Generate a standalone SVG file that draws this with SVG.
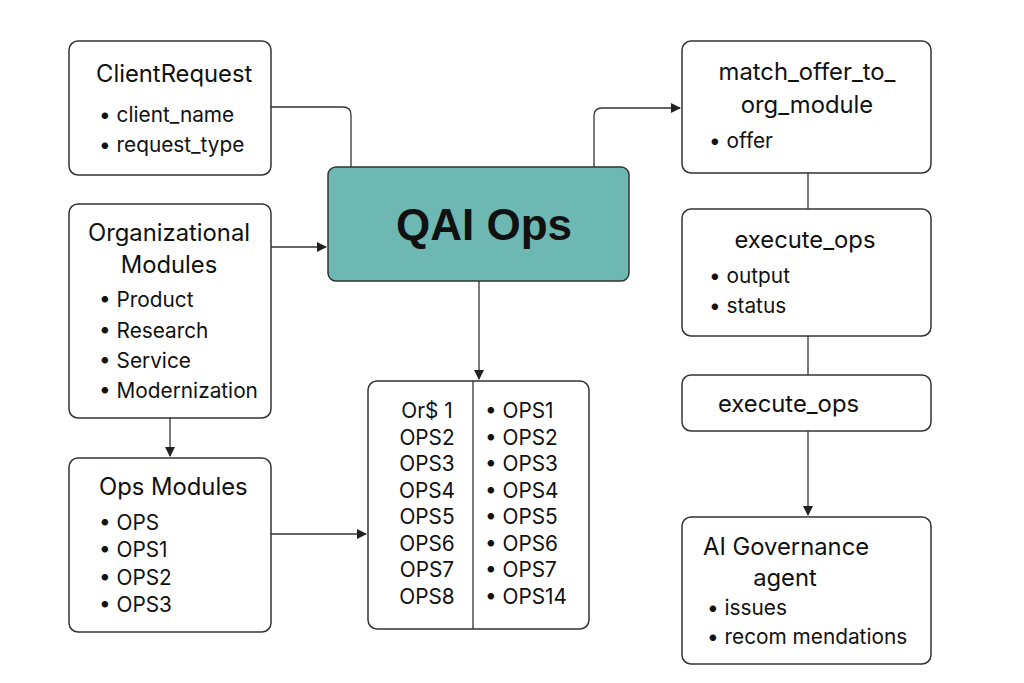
<svg xmlns="http://www.w3.org/2000/svg" width="1024" height="683" viewBox="0 0 1024 683">
<defs>
<marker id="ah" viewBox="0 0 10 10" refX="9" refY="5" markerWidth="10" markerHeight="10" markerUnits="userSpaceOnUse" orient="auto">
<path d="M0,0 L10,5 L0,10 Z" fill="#222"/>
</marker>
<style>
.box{fill:#fff;stroke:#333;stroke-width:1.5}
.main{fill:#6db8b3;stroke:#333;stroke-width:1.5}
.t{font-family:Inter,"Liberation Sans",sans-serif;font-size:23.8px;fill:#111}
.b{font-family:Inter,"Liberation Sans",sans-serif;font-size:20.8px;fill:#111}
.c{text-anchor:middle}
.big{font-family:"Liberation Sans",Arial,sans-serif;font-size:44px;font-weight:bold;fill:#111;text-anchor:middle}
.ln{fill:none;stroke:#333;stroke-width:1.3}
</style>
</defs>
<rect width="1024" height="683" fill="#fff"/>
<g id="connectors">
<path class="ln" d="M271,107 H343 Q351,107 351,115 V167"/>
<path class="ln" d="M271,247 H326" marker-end="url(#ah)"/>
<path class="ln" d="M479,281 V379" marker-end="url(#ah)"/>
<path class="ln" d="M170,418 V456" marker-end="url(#ah)"/>
<path class="ln" d="M271,534 H366" marker-end="url(#ah)"/>
<path class="ln" d="M594,167 V116 Q594,108 602,108 H680" marker-end="url(#ah)"/>
<path class="ln" d="M808,173 V209"/>
<path class="ln" d="M808,336 V375"/>
<path class="ln" d="M808,431 V515" marker-end="url(#ah)"/>
</g>
<g id="client-request">
<rect class="box" x="69" y="41" width="202" height="134" rx="9"/>
<text class="t" x="96" y="82">ClientRequest</text>
<text class="b" x="99" y="122">• client_name</text>
<text class="b" x="99" y="152">• request_type</text>
</g>
<g id="org-modules">
<rect class="box" x="69" y="204" width="202" height="214" rx="9"/>
<text class="t c" x="169" y="241">Organizational</text>
<text class="t c" x="169" y="273">Modules</text>
<text class="b" x="99" y="307">• Product</text>
<text class="b" x="99" y="338">• Research</text>
<text class="b" x="99" y="368">• Service</text>
<text class="b" x="99" y="398">• Modernization</text>
</g>
<g id="qai-ops">
<rect class="main" x="328" y="167" width="301" height="114" rx="8"/>
<text class="big" x="484" y="240">QAI Ops</text>
</g>
<g id="ops-modules">
<rect class="box" x="69" y="458" width="202" height="174" rx="9"/>
<text class="t" x="99" y="495">Ops Modules</text>
<text class="b" x="99" y="530">• OPS</text>
<text class="b" x="99" y="557">• OPS1</text>
<text class="b" x="99" y="585">• OPS2</text>
<text class="b" x="99" y="612">• OPS3</text>
</g>
<g id="ops-table">
<rect class="box" x="368" y="381" width="221" height="248" rx="9"/>
<line class="ln" x1="473" y1="381" x2="473" y2="629"/>
<text class="b c" x="427" y="418">Or$ 1</text>
<text class="b c" x="427" y="445">OPS2</text>
<text class="b c" x="427" y="471">OPS3</text>
<text class="b c" x="427" y="498">OPS4</text>
<text class="b c" x="427" y="524">OPS5</text>
<text class="b c" x="427" y="551">OPS6</text>
<text class="b c" x="427" y="577">OPS7</text>
<text class="b c" x="427" y="604">OPS8</text>
<text class="b" x="485" y="418">• OPS1</text>
<text class="b" x="485" y="445">• OPS2</text>
<text class="b" x="485" y="471">• OPS3</text>
<text class="b" x="485" y="498">• OPS4</text>
<text class="b" x="485" y="524">• OPS5</text>
<text class="b" x="485" y="551">• OPS6</text>
<text class="b" x="485" y="577">• OPS7</text>
<text class="b" x="485" y="604">• OPS14</text>
</g>
<g id="match-offer">
<rect class="box" x="682" y="41" width="249" height="132" rx="9"/>
<text class="t c" x="807" y="80">match_offer_to_</text>
<text class="t c" x="807" y="113">org_module</text>
<text class="b" x="709" y="148">• offer</text>
</g>
<g id="execute-ops-1">
<rect class="box" x="682" y="209" width="249" height="127" rx="9"/>
<text class="t c" x="805" y="248">execute_ops</text>
<text class="b" x="709" y="283">• output</text>
<text class="b" x="709" y="313">• status</text>
</g>
<g id="execute-ops-2">
<rect class="box" x="682" y="375" width="249" height="56" rx="9"/>
<text class="t" x="718" y="412">execute_ops</text>
</g>
<g id="ai-governance">
<rect class="box" x="682" y="517" width="249" height="147" rx="9"/>
<text class="t" x="703" y="555">AI Governance</text>
<text class="t c" x="785" y="586">agent</text>
<text class="b" x="707" y="615">• issues</text>
<text class="b" x="707" y="644">• recom mendations</text>
</g>
</svg>
